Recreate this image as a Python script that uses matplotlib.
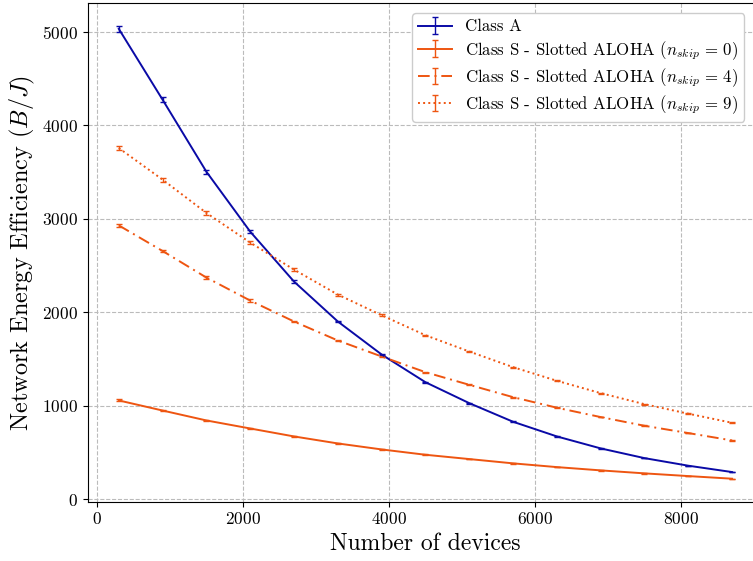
import numpy as np
import matplotlib.pyplot as plt

plt.rcParams['font.family'] = 'serif'
plt.rcParams['font.serif'] = ['cmr10', 'DejaVu Serif']
plt.rcParams['mathtext.fontset'] = 'cm'
plt.rcParams['axes.formatter.use_mathtext'] = True

# number of devices
devices = [300, 900, 1500, 2100, 2700, 3300, 3900, 4500, 5100, 5700, 6300, 6900, 7500, 8100, 8700]

# network energy efficiency (B/J)
class_a = [5032, 4274, 3504, 2863, 2329, 1902, 1549, 1253, 1029, 830, 673, 545, 441, 360, 292]
aloha_skip0 = [1058, 950, 844, 758, 673, 598, 534, 477, 431, 385, 345, 310, 278, 249, 221]
aloha_skip4 = [2930, 2656, 2372, 2126, 1902, 1699, 1528, 1360, 1225, 1093, 980, 880, 787, 709, 630]
aloha_skip9 = [3757, 3419, 3063, 2746, 2457, 2190, 1969, 1755, 1581, 1414, 1268, 1136, 1018, 916, 819]

# error bar half-widths
err_a = [30, 25, 20, 16, 13, 10, 8, 7, 6, 5, 4, 3, 3, 2, 2]
err_0 = [10, 8, 7, 6, 5, 4, 4, 3, 3, 3, 2, 2, 2, 2, 2]
err_4 = [20, 16, 14, 12, 10, 8, 7, 6, 5, 5, 4, 4, 3, 3, 3]
err_9 = [25, 20, 18, 15, 12, 10, 9, 8, 7, 6, 5, 5, 4, 4, 4]

blue = '#0a0aa6'
orange = '#ee5511'

fig = plt.figure(figsize=(7.53, 5.61), dpi=100)
ax = fig.add_axes([0.117, 0.106, 0.896, 0.888])

ax.errorbar(devices, class_a, yerr=err_a, color=blue, lw=1.4, capsize=2,
            elinewidth=1.0, label='Class A')
ax.errorbar(devices, aloha_skip0, yerr=err_0, color=orange, lw=1.4, ls='-',
            capsize=2, elinewidth=1.0,
            label=r'Class S - Slotted ALOHA ($n_{skip}\,=\,0$)')
ax.errorbar(devices, aloha_skip4, yerr=err_4, color=orange, lw=1.4,
            ls=(0, (6, 2.5, 1, 2.5)), capsize=2, elinewidth=1.0,
            label=r'Class S - Slotted ALOHA ($n_{skip}\,=\,4$)')
ax.errorbar(devices, aloha_skip9, yerr=err_9, color=orange, lw=1.4, ls=':',
            capsize=2, elinewidth=1.0,
            label=r'Class S - Slotted ALOHA ($n_{skip}\,=\,9$)')

ax.set_xticks([0, 2000, 4000, 6000, 8000])
ax.set_yticks([0, 1000, 2000, 3000, 4000, 5000])
ax.tick_params(labelsize=12.5)
ax.grid(True, linestyle='--', color='#bbbbbb', lw=0.8)
ax.set_xlabel('Number of devices', fontsize=17)
ax.set_ylabel(r'Network Energy Efficiency ($B/J$)', fontsize=17.5)
ax.legend(loc='upper right', bbox_to_anchor=(0.985, 0.997), fontsize=12.1,
          framealpha=1.0, fancybox=True, handlelength=2.0, labelspacing=0.3,
          borderpad=0.35)

plt.savefig('out.png', dpi=100)
